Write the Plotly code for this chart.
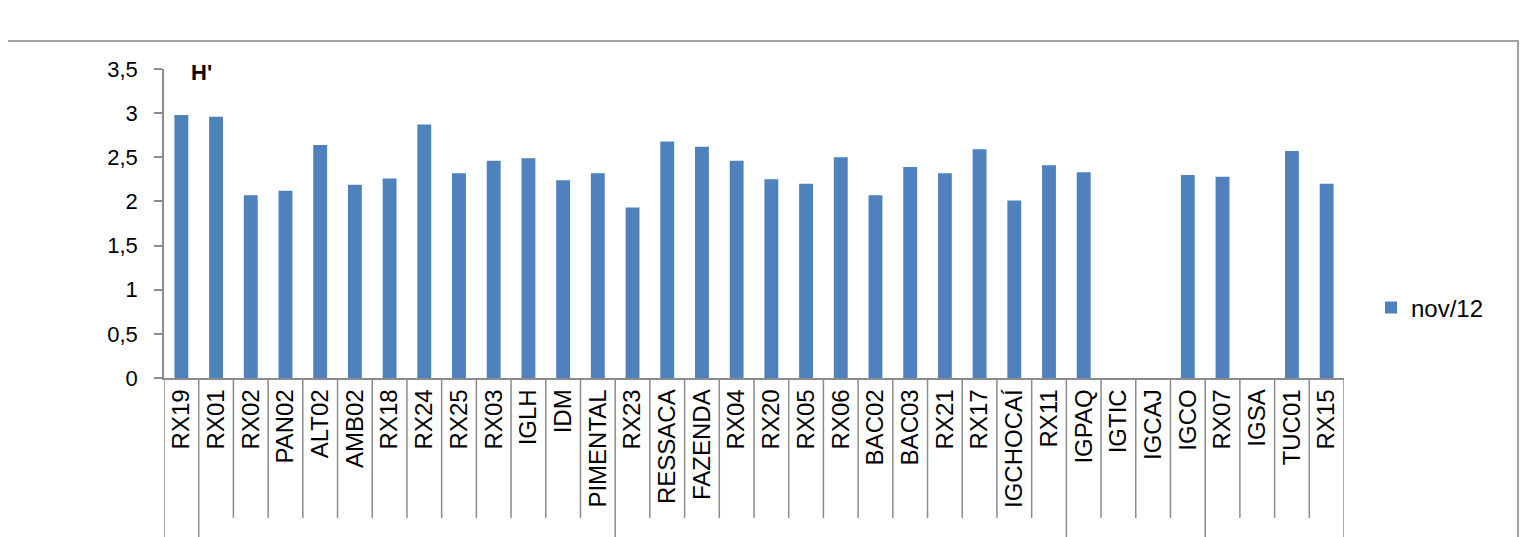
import plotly.graph_objects as go

# Sites (x categories) and Shannon index H' for nov/12
sites = ['RX19', 'RX01', 'RX02', 'PAN02', 'ALT02', 'AMB02', 'RX18', 'RX24', 'RX25',
         'RX03', 'IGLH', 'IDM', 'PIMENTAL', 'RX23', 'RESSACA', 'FAZENDA', 'RX04',
         'RX20', 'RX05', 'RX06', 'BAC02', 'BAC03', 'RX21', 'RX17', 'IGCHOCAÍ', 'RX11',
         'IGPAQ', 'IGTIC', 'IGCAJ', 'IGCO', 'RX07', 'IGSA', 'TUC01', 'RX15']
h_nov12 = [2.98, 2.96, 2.07, 2.12, 2.64, 2.19, 2.26, 2.87, 2.32,
           2.46, 2.49, 2.24, 2.32, 1.93, 2.68, 2.62, 2.46,
           2.25, 2.20, 2.50, 2.07, 2.39, 2.32, 2.59, 2.01, 2.41,
           2.33, None, None, 2.30, 2.28, None, 2.57, 2.20]
# number of sites in each outer group of the two-level category axis
group_sizes = [1, 12, 13, 4, 4]
y_ticks = [0, 0.5, 1, 1.5, 2, 2.5, 3, 3.5]
y_labels = ['0', '0,5', '1', '1,5', '2', '2,5', '3', '3,5']

FONT = 'Liberation Sans, Arial, sans-serif'
GRAY = '#8c8c8c'
OFF = 8  # page body margin
W, H = 1527 - OFF, 537 - OFF
L, R, T = 164 - OFF, 1527 - 1344, 69 - OFF
B = H - (378 - OFF)
plot_h = H - T - B
plot_w = W - L - R
base = H - B  # y pixel of value 0 in figure coords


def px_y(page_y):
    return (base - (page_y - OFF)) / plot_h


def px_x(page_x):
    return (page_x - OFF - L) / plot_w


fig = go.Figure()
fig.add_trace(go.Bar(
    x=sites, y=h_nov12, name='nov/12',
    marker=dict(color='#4F81BD', line=dict(width=0)),
))

# separators of the category axis
group_edges = [0]
for g in group_sizes:
    group_edges.append(group_edges[-1] + g)
shapes = []
for i in range(len(sites) + 1):
    long_line = i in group_edges
    shapes.append(dict(
        type='line', xref='x', yref='paper',
        x0=i - 0.5, x1=i - 0.5, y0=0,
        y1=px_y(560) if long_line else px_y(518),
        line=dict(color=GRAY, width=1.5),
    ))
# outer chart frame
shapes.append(dict(
    type='rect', xref='paper', yref='paper',
    x0=px_x(-10), x1=px_x(1518),
    y0=px_y(580), y1=px_y(41),
    line=dict(color='#a0a0a0', width=2),
))

fig.update_layout(
    width=W, height=H,
    margin=dict(l=L, r=R, t=T, b=B),
    plot_bgcolor='white', paper_bgcolor='white',
    font=dict(family=FONT, color='black', size=22),
    bargap=0.6,
    showlegend=True,
    legend=dict(x=px_x(1371), y=px_y(308),
                xanchor='left', yanchor='middle',
                font=dict(size=24), bgcolor='rgba(0,0,0,0)'),
    shapes=shapes,
    annotations=[dict(
        text="<b>H'</b>", xref='paper', yref='paper',
        x=px_x(189), y=px_y(72),
        xanchor='left', yanchor='middle', showarrow=False,
        font=dict(size=22, family=FONT),
    )],
)
fig.update_xaxes(
    type='category', tickangle=-90, ticks='',
    tickfont=dict(size=24), showline=True, linecolor=GRAY, linewidth=1.5,
    showgrid=False, range=[-0.5, len(sites) - 0.5],
)
fig.update_yaxes(
    range=[0, 3.5], tickvals=y_ticks, ticktext=y_labels,
    ticks='outside', ticklen=8, tickcolor=GRAY, tickwidth=1.5,
    showline=True, linecolor=GRAY, linewidth=1.5,
    showgrid=False, zeroline=False, tickfont=dict(size=22),
    ticklabelstandoff=12,
)

fig.write_html('out.html')
